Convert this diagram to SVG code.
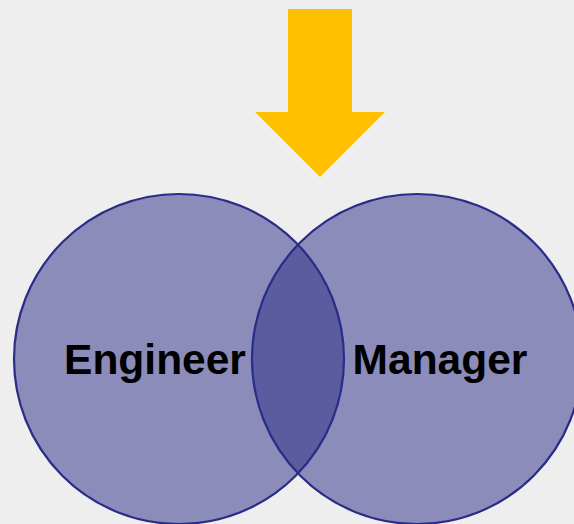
<svg xmlns="http://www.w3.org/2000/svg" width="574" height="524" viewBox="0 0 574 524">
<style>
.c{fill:#8b8cba}
.o{fill:none;stroke:#2b2b88;stroke-width:2.2}
.t{font-family:"Liberation Sans",Arial,sans-serif;font-weight:bold;font-size:42.5px;fill:#000;text-anchor:middle}
</style>
<rect width="574" height="524" fill="#eeeeee"/>
<g id="arrow">
<polygon points="288,9 352,9 352,112 385,112 320,177 255,112 288,112" fill="#ffc000"/>
</g>
<g id="engineer">
<circle class="c" cx="179" cy="359" r="165"/>
</g>
<g id="manager">
<circle class="c" cx="417" cy="359" r="165"/>
</g>
<g id="overlap">
<path d="M298,244.7 A165,165 0 0 1 298,473.3 A165,165 0 0 1 298,244.7 Z" fill="#5b5ca0"/>
</g>
<g id="outlines">
<circle class="o" cx="179" cy="359" r="165"/>
<circle class="o" cx="417" cy="359" r="165"/>
</g>
<text class="t" x="155" y="374">Engineer</text>
<text class="t" x="440" y="374">Manager</text>
</svg>
